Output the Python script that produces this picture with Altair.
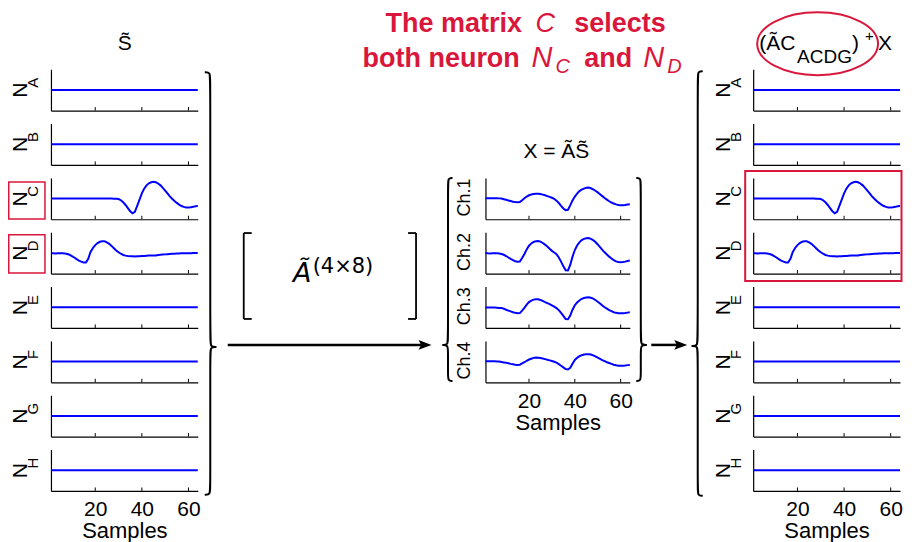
import altair as alt
import pandas as pd

# ---------------- data ----------------
samples = list(range(1, 65))
neuron_letters = ["A", "B", "C", "D", "E", "F", "G", "H"]
channel_names = ["Ch.1", "Ch.2", "Ch.3", "Ch.4"]
x_tick_values = [20, 40, 60]

n_flat = [0.0] * 64

n_c = [0.00, 0.00, 0.00, 0.00, 0.00, 0.00, 0.00, 0.00, 0.00, 0.00,
       0.00, 0.00, 0.00, 0.00, 0.00, 0.00, 0.00, 0.00, 0.00, 0.00,
       0.00, 0.00, 0.00, 0.00, 0.00, 0.00, 0.00, -0.01, -0.01, -0.02,
       -0.08, -0.18, -0.31, -0.46, -0.61, -0.71, -0.64, -0.35, -0.05, 0.25,
       0.48, 0.64, 0.74, 0.79, 0.81, 0.79, 0.73, 0.64, 0.52, 0.39,
       0.25, 0.11, -0.01, -0.12, -0.21, -0.29, -0.36, -0.40, -0.43, -0.43,
       -0.42, -0.40, -0.37, -0.36]

n_d = [-0.01, -0.02, -0.03, -0.02, -0.01, -0.02, -0.03, -0.05, -0.09, -0.15,
       -0.22, -0.30, -0.37, -0.42, -0.46, -0.46, -0.28, 0.05, 0.24, 0.38,
       0.48, 0.54, 0.56, 0.56, 0.51, 0.44, 0.34, 0.23, 0.12, 0.03,
       -0.04, -0.10, -0.13, -0.15, -0.16, -0.16, -0.17, -0.16, -0.16, -0.15,
       -0.15, -0.14, -0.13, -0.13, -0.12, -0.12, -0.10, -0.09, -0.08, -0.07,
       -0.06, -0.05, -0.04, -0.04, -0.03, -0.03, -0.02, -0.02, -0.02, -0.01,
       -0.01, 0.00, 0.00, 0.00]

ch1 = [0.02, 0.02, 0.02, 0.02, 0.02, 0.02, 0.01, 0.00, -0.03, -0.06,
       -0.09, -0.12, -0.15, -0.17, -0.18, -0.17, -0.08, 0.02, 0.10, 0.16,
       0.20, 0.22, 0.23, 0.23, 0.22, 0.19, 0.16, 0.12, 0.08, 0.04,
       -0.01, -0.10, -0.21, -0.35, -0.48, -0.56, -0.54, -0.33, -0.09, 0.10,
       0.24, 0.36, 0.43, 0.48, 0.52, 0.53, 0.50, 0.45, 0.38, 0.30,
       0.21, 0.12, 0.03, -0.05, -0.13, -0.19, -0.24, -0.28, -0.31, -0.32,
       -0.32, -0.31, -0.29, -0.27]

ch2 = [0.00, -0.02, -0.03, -0.02, -0.02, -0.02, -0.03, -0.05, -0.09, -0.15,
       -0.22, -0.29, -0.35, -0.40, -0.43, -0.42, -0.25, -0.05, 0.17, 0.35,
       0.46, 0.53, 0.57, 0.58, 0.55, 0.48, 0.40, 0.31, 0.20, 0.10,
       0.02, -0.06, -0.22, -0.42, -0.65, -0.84, -0.85, -0.58, -0.18, 0.14,
       0.36, 0.51, 0.62, 0.68, 0.71, 0.72, 0.68, 0.62, 0.53, 0.41,
       0.28, 0.15, 0.03, -0.08, -0.18, -0.27, -0.35, -0.41, -0.44, -0.45,
       -0.44, -0.42, -0.39, -0.37]

ch3 = [-0.01, -0.01, -0.01, -0.01, -0.01, -0.02, -0.03, -0.04, -0.07, -0.12,
       -0.16, -0.20, -0.24, -0.27, -0.29, -0.28, -0.16, -0.03, 0.13, 0.25,
       0.32, 0.37, 0.39, 0.39, 0.35, 0.31, 0.25, 0.20, 0.15, 0.09,
       0.03, -0.04, -0.14, -0.27, -0.42, -0.57, -0.58, -0.40, -0.12, 0.10,
       0.23, 0.33, 0.41, 0.45, 0.47, 0.48, 0.46, 0.42, 0.35, 0.27,
       0.18, 0.09, 0.00, -0.07, -0.14, -0.19, -0.24, -0.27, -0.29, -0.29,
       -0.29, -0.28, -0.26, -0.24]

ch4 = [0.02, 0.02, 0.02, 0.02, 0.02, 0.01, 0.00, -0.02, -0.04, -0.06,
       -0.08, -0.11, -0.13, -0.15, -0.16, -0.15, -0.09, -0.03, 0.04, 0.10,
       0.14, 0.18, 0.20, 0.19, 0.17, 0.15, 0.12, 0.09, 0.06, 0.03,
       -0.01, -0.05, -0.12, -0.20, -0.28, -0.36, -0.38, -0.30, -0.10, 0.08,
       0.18, 0.26, 0.31, 0.34, 0.36, 0.36, 0.34, 0.30, 0.25, 0.19,
       0.13, 0.07, 0.02, -0.03, -0.07, -0.11, -0.15, -0.18, -0.20, -0.20,
       -0.20, -0.19, -0.17, -0.16]

neuron_series = [n_flat, n_flat, n_c, n_d, n_flat, n_flat, n_flat, n_flat]
channel_series = [ch1, ch2, ch3, ch4]

# ---------------- style / layout ----------------
RED = "#d9173c"
BLUE = "#0000ff"
FONT = "Liberation Sans"
NARROW = "Liberation Sans Narrow, Liberation Sans"
H = 41.4           # plot height of every panel
ROW_GAP = 12.4     # Vega rounds the 41.4 row up to 42 -> row pitch 54.4
W_N = 147
W_CH = 144.5
W_GAP1 = 262
W_GAP2 = 97
SP = 13
OX = 51 + W_N + SP   # page position of the annotation cell
OY = 66
one = pd.DataFrame({"k": [0]})

xscale = alt.Scale(domain=[1, 64], nice=False, zero=False)
yscale = alt.Scale(domain=[-1, 1], nice=False, zero=False)


def X(px):
    return px - OX


def Y(py):
    return py - OY


def x_axis(bottom):
    if bottom:
        return alt.Axis(values=x_tick_values, title="Samples", grid=False, ticks=False,
                        tickSize=0, labelFlush=False, labelFont=FONT, labelFontSize=21,
                        labelColor="black", labelPadding=8, labelAngle=0, titleFont=FONT,
                        titleFontSize=22, titleFontWeight="normal", titleColor="black",
                        titlePadding=1, domainColor="black", domainWidth=1.2)
    return alt.Axis(values=x_tick_values, title=None, labels=False, grid=False,
                    ticks=False, tickSize=0, domainColor="black", domainWidth=1.2)


y_axis = alt.Axis(title=None, labels=False, ticks=False, tickSize=0, grid=False,
                  domainColor="black", domainWidth=1.2)


def txt(text, x, y, size, angle=0, align="center", baseline="middle", color="black",
        font=FONT, style="normal", weight="normal"):
    return alt.Chart(one).mark_text(
        text=text, font=font, fontSize=size, angle=angle, align=align, baseline=baseline,
        color=color, fontStyle=style, fontWeight=weight
    ).encode(x=alt.value(x), y=alt.value(y))


def top_txt(text, x, base, size, **kw):
    # top-anchored text whose alphabetic baseline lands on `base`
    return txt(text, x, base - round(0.79 * size), size, baseline="top", **kw)


def wave_panel(values, width, bottom, labels):
    df = pd.DataFrame({"sample": samples, "value": values})
    ax = x_axis(bottom)
    line = alt.Chart(df).mark_line(color=BLUE, strokeWidth=2).encode(
        x=alt.X("sample:Q", scale=xscale, axis=ax),
        y=alt.Y("value:Q", scale=yscale, axis=y_axis))
    ticks = alt.Chart(pd.DataFrame({"sample": x_tick_values})).mark_rule(
        color="black", strokeWidth=1).encode(
        x=alt.X("sample:Q", scale=xscale, axis=ax),
        y=alt.value(H), y2=alt.value(H - 3.5))
    return alt.layer(line, ticks, *labels).properties(width=width, height=H)


def neuron_panel(k):
    labels = [txt("N", -29.5, 21, 21, angle=270),
              txt(neuron_letters[k], -17.5, 13.5, 15, angle=270)]
    return wave_panel(neuron_series[k], W_N, k == 7, labels)


def channel_panel(k):
    labels = [txt(channel_names[k], -20.5, H / 2 - 1, 18, angle=270, font=NARROW)]
    return wave_panel(channel_series[k], W_CH, k == 3, labels)


def blank(width):
    return alt.Chart(one).mark_point(opacity=0, size=1).encode(
        x=alt.value(0), y=alt.value(0)).properties(width=width, height=H)


def seg(x1, y1, x2, y2, width, color="black"):
    return alt.Chart(one).mark_rule(color=color, strokeWidth=width).encode(
        x=alt.value(X(x1)), y=alt.value(Y(y1)), x2=alt.value(X(x2)), y2=alt.value(Y(y2)))


def box(x1, y1, x2, y2, width):
    return alt.Chart(one).mark_rect(fill="white", fillOpacity=0, stroke=RED,
                                    strokeWidth=width).encode(
        x=alt.value(X(x1)), y=alt.value(Y(y1)), x2=alt.value(X(x2)), y2=alt.value(Y(y2)))


def brace_rows(name, x_end, x_mid, x_tip, y_top, y_tip, y_bot, r):
    upper = [(x_end, y_top), (x_mid, y_top), (x_mid, y_top + r), (x_mid, y_tip - r),
             (x_mid, y_tip), (x_tip, y_tip)]
    lower = [(x_tip, y_tip), (x_mid, y_tip), (x_mid, y_tip + r), (x_mid, y_bot - r),
             (x_mid, y_bot), (x_end, y_bot)]
    rows = []
    for part, pts in (("u", upper), ("l", lower)):
        for i, (x, y) in enumerate(pts):
            rows.append({"part": name + part, "i": i, "x": X(x), "y": Y(y)})
    return rows


brace_df = pd.DataFrame(
    brace_rows("b1", 205, 210.5, 216.5, 69, 344, 492, 8)
    + brace_rows("b2", 453, 448.5, 443, 175, 342, 378, 7)
    + brace_rows("b3", 637, 641.5, 647.5, 175, 342, 378, 7)
    + brace_rows("b4", 703.5, 698.5, 692.5, 68, 343, 493, 8))

braces = alt.Chart(brace_df).mark_line(color="black", strokeWidth=2, interpolate="basis").encode(
    x=alt.X("x:Q", scale=None, axis=None),
    y=alt.Y("y:Q", scale=None, axis=None),
    detail="part:N",
    order=alt.Order("i:Q"))

ARROW = "M 1,0 L -1,-0.75 L -0.6,0 L -1,0.75 Z"
ELLIPSE = ("M -1,0 C -1,-0.287 -0.552,-0.52 0,-0.52 C 0.552,-0.52 1,-0.287 1,0 "
           "C 1,0.287 0.552,0.52 0,0.52 C -0.552,0.52 -1,0.287 -1,0 Z")


def head(x, y):
    return alt.Chart(one).mark_point(shape=ARROW, size=169, filled=True, color="black",
                                     opacity=1).encode(x=alt.value(X(x)), y=alt.value(Y(y)))


ellipse = alt.Chart(one).mark_point(shape=ELLIPSE, size=121 * 121, filled=False, color=RED,
                                    strokeWidth=2, opacity=1).encode(
    x=alt.value(X(818.5)), y=alt.value(Y(40.5)))

annotations = alt.layer(
    braces,
    # arrows
    seg(228, 342, 427, 342, 2.5), head(425.5, 342),
    seg(652, 342, 683, 342, 2.5), head(681.5, 342),
    # matrix brackets
    seg(244, 230, 244, 316, 1.8), seg(244, 230, 252, 230, 1.8), seg(244, 316, 252, 316, 1.8),
    seg(416.5, 230, 416.5, 316, 1.8), seg(408.5, 230, 416.5, 230, 1.8),
    seg(408.5, 316, 416.5, 316, 1.8),
    txt("\u00c3", X(302.5), Y(279), 27, align="center", baseline="alphabetic",
        font="DejaVu Sans", style="italic"),
    txt("(4\u00d78)", X(313), Y(270), 21, align="left", baseline="alphabetic",
        font="DejaVu Sans"),
    # column titles
    txt("S\u0303", X(125), Y(47), 21, baseline="alphabetic"),
    txt("X = \u00c3S\u0303", X(557), Y(155), 21, baseline="alphabetic"),
    txt("(\u00c3C", X(760), Y(47), 21, align="left", baseline="alphabetic"),
    txt("ACDG", X(798), Y(60), 19, align="left", baseline="alphabetic"),
    txt(")", X(853), Y(47), 21, align="left", baseline="alphabetic"),
    txt("+", X(866), Y(38), 15, align="left", baseline="alphabetic"),
    txt("X", X(879), Y(47), 21, align="left", baseline="alphabetic"),
    ellipse,
    # red statement
    top_txt("The matrix", X(386), Y(29), 27, align="left", color=RED, weight="bold"),
    top_txt("C", X(536), Y(29), 27, align="left", color=RED, style="italic"),
    top_txt("selects", X(575), Y(29), 27, align="left", color=RED, weight="bold"),
    txt("both neuron", X(363), Y(64), 27, align="left", baseline="alphabetic", color=RED,
        weight="bold"),
    txt("N", X(532), Y(64), 29, align="left", baseline="alphabetic", color=RED,
        style="italic"),
    txt("C", X(556), Y(70), 20, align="left", baseline="alphabetic", color=RED,
        style="italic"),
    txt("and", X(585), Y(64), 27, align="left", baseline="alphabetic", color=RED,
        weight="bold"),
    txt("N", X(644), Y(64), 29, align="left", baseline="alphabetic", color=RED,
        style="italic"),
    txt("D", X(668), Y(70), 20, align="left", baseline="alphabetic", color=RED,
        style="italic"),
    # red frames (kept inside the 896 px wide page body so the SVG is not shrunk)
    box(8.75, 179, 45, 216, 1.5),
    box(8.75, 231.7, 45, 270, 1.5),
    box(746, 168, 902.5, 278, 2),
).properties(width=W_GAP1, height=H)

cells = []
for r in range(8):
    cells.append(neuron_panel(r))
    cells.append(annotations if r == 0 else blank(W_GAP1))
    cells.append(channel_panel(r - 2) if 2 <= r <= 5 else blank(W_CH))
    cells.append(blank(W_GAP2))
    cells.append(neuron_panel(r))

chart = alt.concat(*cells, columns=5, spacing={"row": ROW_GAP, "column": SP},
                   bounds="flush", align="each").properties(
    padding=0, background="white"
).configure_view(stroke=None)

chart.save("out.html", embed_options={"renderer": "svg", "actions": False})
